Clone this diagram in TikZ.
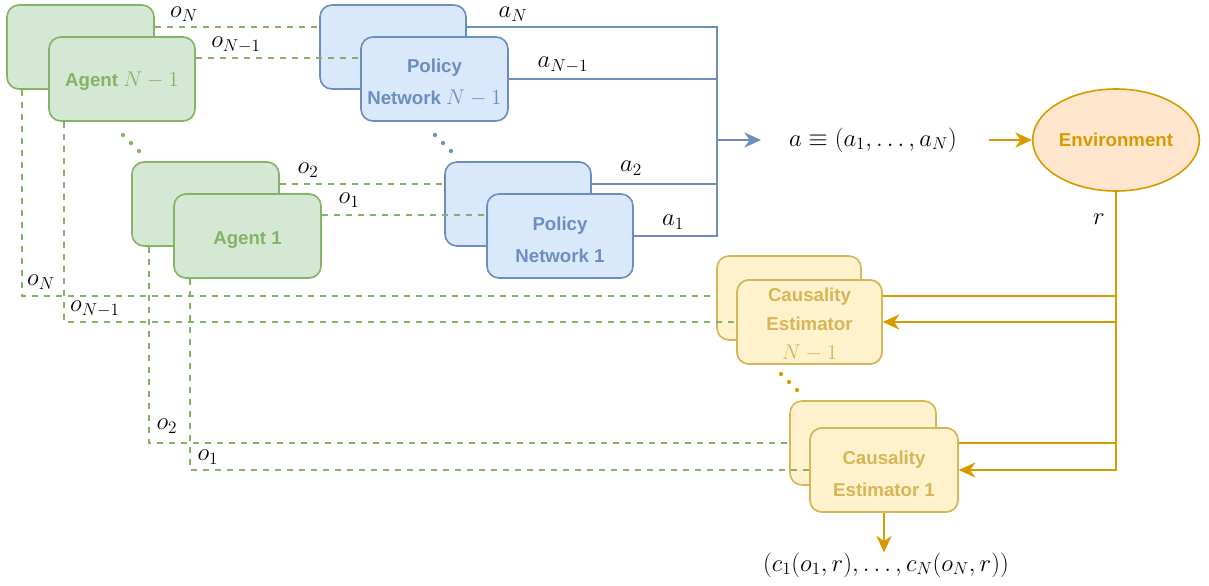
\RequirePackage{fix-cm}
\documentclass[tikz,border=0pt]{standalone}
\usepackage{fontspec}
\setmainfont{Liberation Sans}
\usetikzlibrary{arrows.meta,calc,shapes.geometric}
\definecolor{gfill}{HTML}{D5E8D4}
\definecolor{gline}{HTML}{82B366}
\definecolor{bfill}{HTML}{DAE8FC}
\definecolor{bline}{HTML}{6C8EBF}
\definecolor{yfill}{HTML}{FFF2CC}
\definecolor{yline}{HTML}{D6B656}
\definecolor{ofill}{HTML}{FFE6CC}
\definecolor{oline}{HTML}{D79B00}
\newcommand\mth[1]{{\fontsize{16}{16}\selectfont$#1$}}
\newcommand\lift[1]{\rule{0pt}{#1}}
\begin{document}
\begin{tikzpicture}[x=0.75pt,y=-0.75pt,
  box/.style={rounded corners=9pt, line width=1.2pt, inner sep=0pt, align=center,
    font=\bfseries\fontsize{14}{17}\selectfont},
  sz/.style 2 args={minimum width={#1*0.75pt}, minimum height={#2*0.75pt}},
  gbox/.style={box, draw=gline, fill=gfill, text=gline},
  bbox/.style={box, draw=bline, fill=bfill, text=bline},
  ybox/.style={box, draw=yline, fill=yfill, text=yline},
  obs/.style={draw=gline, line width=1.1pt, dash pattern=on 4.5pt off 4.5pt},
  act/.style={draw=bline, line width=1.1pt},
  rew/.style={draw=oline, line width=1.1pt},
  tipb/.style={-{Stealth[length=12.5pt,width=11.5pt,inset=4pt]}},
  lab/.style={font=\fontsize{18.5}{20}\selectfont, inner sep=0pt}
]
\useasboundingbox (0,0) rectangle (1209,585);

% back boxes
\node[gbox, sz={147}{84}] (agNb) at (80.5,47) {};
\node[gbox, sz={147}{84}] (ag2b) at (205.5,204) {};
\node[bbox, sz={146}{84}] (polNb) at (393,47) {};
\node[bbox, sz={146}{84}] (pol2b) at (518,204) {};
\node[ybox, sz={144}{84}] (cENb) at (789,298) {};
\node[ybox, sz={146}{84}] (cE2b) at (863,443) {};

% observation lines (agents -> policies, back)
\draw[obs] ([yshift=15pt]agNb.east) -- ([yshift=15pt]polNb.west);
\draw[obs] ([yshift=15pt]ag2b.east) -- ([yshift=15pt]pol2b.west);

\node[gbox, sz={146}{84}] (agN1f) at (122,79) {\lift{14pt}Agent \mth{N-1}};
\node[gbox, sz={147}{84}] (ag1f) at (247.5,236) {\lift{15pt}Agent 1};

% observation lines to front policies
\draw[obs] ([yshift=15.75pt]agN1f.east) -- ++(124.5pt,0);
\draw[obs] ([yshift=15.75pt]ag1f.east) -- ++(124.5pt,0);

% observation lines to causality estimators
\draw[obs] ([xshift=12pt]agNb.south west) |- ([yshift=1.5pt]cENb.west);
\draw[obs] ([xshift=13.5pt]ag2b.south west) |- (cE2b.west);

\node[bbox, sz={147}{84}] (polN1f) at (434.5,79) {\lift{16pt}Policy\\[7pt]Network \mth{N-1}};
\node[bbox, sz={146}{84}] (pol1f) at (560,236) {\lift{16pt}Policy\\[7pt]Network 1};

\node[ybox, sz={145}{84}] (cEN1f) at (809.5,322) {\lift{14pt}Causality\\[4.5pt]Estimator\\[4.5pt]\mth{N-1}};
\node[ybox, sz={148}{84}] (cE1f) at (884,470) {\lift{16pt}Causality\\[7pt]Estimator 1};

\draw[obs] ([xshift=12pt]agN1f.south west) |- (cEN1f.west);
\draw[obs] ([xshift=12.75pt]ag1f.south west) |- (cE1f.west);

% front estimator boxes drawn again over their incoming lines
\node[ybox, sz={145}{84}] at (cEN1f) {\lift{14pt}Causality\\[4.5pt]Estimator\\[4.5pt]\mth{N-1}};
\node[ybox, sz={148}{84}] at (cE1f) {\lift{16pt}Causality\\[7pt]Estimator 1};

% actions
\coordinate (bus) at (717,140);
\draw[act] ([yshift=15pt]polNb.east) -| (bus);
\draw[act] (polN1f.east) -| (bus);
\draw[act] ([yshift=15pt]pol2b.east) -| (bus);
\draw[act] (pol1f.east) -| (bus);

\node[lab] (aeq) at (873,140) {$a \equiv (a_1,\ldots,a_N)$};
\draw[act,tipb] (bus) -- ([xshift=-21pt]aeq.west);

\node[ellipse, draw=oline, fill=ofill, line width=1.2pt, text=oline,
  minimum width=125pt, minimum height=76.5pt, inner sep=0pt,
  font=\bfseries\fontsize{14}{17}\selectfont] (env) at (1116,140) {Environment};
\draw[rew,tipb] ([xshift=24pt]aeq.east) -- (env.west);

% reward
\draw[rew] (env.south) |- ([yshift=19.5pt]cEN1f.east);
\draw[rew,tipb] (env.south) |- (cEN1f.east);
\draw[rew] (env.south) |- ([yshift=20.25pt]cE1f.east);
\draw[rew,tipb] (env.south) |- (cE1f.east);

\node[lab] (res) at (886,565) {$(c_1(o_1,r),\ldots,c_N(o_N,r))$};
\draw[rew,tipb] (cE1f.south) -- (cE1f.south |- res.north);

% labels
\node[lab] at (184,14) {$o_N$};
\node[lab] at (236,45) {$o_{N-1}$};
\node[lab] at (308,170) {$o_2$};
\node[lab] at (349,200) {$o_1$};
\node[lab] at (513,14) {$a_N$};
\node[lab] at (563,65) {$a_{N-1}$};
\node[lab] at (631,168) {$a_2$};
\node[lab] at (673,222) {$a_1$};
\node[lab] at (1099,219) {$r$};
\node[lab] at (41,282) {$o_N$};
\node[lab] at (95,309) {$o_{N-1}$};
\node[lab] at (167,426) {$o_2$};
\node[lab] at (208,457) {$o_1$};

% dots
\foreach \p in {(123,135),(131,143),(139,151)} \fill[gline] \p circle (1.6pt);
\foreach \p in {(435,135),(443,143),(451,151)} \fill[bline] \p circle (1.6pt);
\foreach \p in {(781,374),(789,382),(797,390)} \fill[oline] \p circle (1.6pt);
\end{tikzpicture}
\end{document}
